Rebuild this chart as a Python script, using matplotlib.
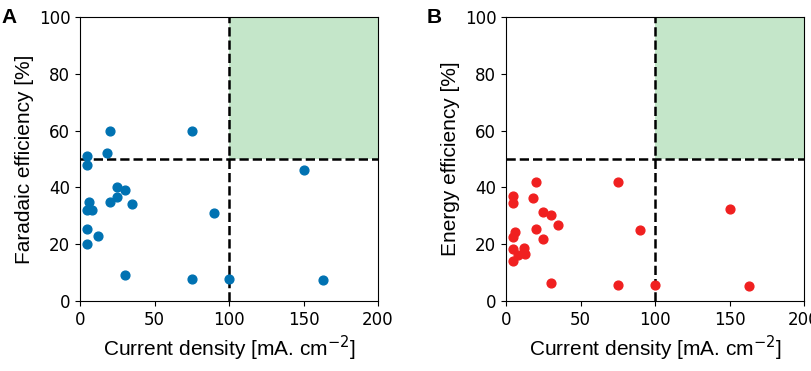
import numpy as np
import matplotlib.pyplot as plt

# panel A: faradaic efficiency vs current density
fe_j = [20, 75, 5, 5, 18, 25, 30, 25, 20, 35, 6, 5, 8, 90, 5, 12, 5, 30, 75, 100, 150, 163]
fe = [60, 60, 51, 48, 52, 40.3, 39, 36.5, 35, 34.3, 35, 32, 32.2, 31, 25.5, 23, 20, 9, 7.6, 7.7, 46, 7.3]

# panel B: energy efficiency vs current density
ee_j = [20, 75, 5, 5, 18, 25, 30, 35, 20, 6, 5, 25, 5, 12, 8, 13, 5, 30, 75, 90, 100, 150, 163]
ee = [42, 42, 37, 34.5, 36.4, 31.3, 30.3, 26.6, 25.5, 24.4, 22.5, 21.7, 18.2, 18.8, 16.1, 16.7, 14.2, 6.2, 5.5, 25, 5.5, 32.3, 5.2]

j_target = 100
eff_target = 50

fig = plt.figure(figsize=(8.11, 3.71), dpi=100)
axA = fig.add_axes([80 / 811, 70 / 371, 298 / 811, 284 / 371])
axB = fig.add_axes([506 / 811, 70 / 371, 298 / 811, 284 / 371])

label_font = dict(family='Liberation Sans', fontsize=15)

for ax, x, y, col, ylab, letter in [
        (axA, fe_j, fe, '#0072B2', 'Faradaic efficiency [%]', 'A'),
        (axB, ee_j, ee, '#F02020', 'Energy efficiency [%]', 'B')]:
    ax.fill_between([j_target, 200], eff_target, 100, color='#c4e6c9', lw=0, zorder=0)
    ax.axvline(j_target, color='k', ls='--', lw=1.8, zorder=1)
    ax.axhline(eff_target, color='k', ls='--', lw=1.8, zorder=1)
    ax.scatter(x, y, s=40, color=col, zorder=2)
    ax.set_xlim(0, 200)
    ax.set_ylim(0, 100)
    ax.set_xticks([0, 50, 100, 150, 200])
    ax.set_yticks([0, 20, 40, 60, 80, 100])
    ax.tick_params(labelsize=12)
    ax.set_xlabel('Current density [mA. cm$^{-2}$]', **label_font)
    ax.set_ylabel(ylab, labelpad=3, **label_font)
    ax.text(-0.265, 1.03, letter, transform=ax.transAxes, family='Liberation Sans',
            fontsize=15, fontweight='bold', va='top')

fig.savefig('out.png', dpi=100)
